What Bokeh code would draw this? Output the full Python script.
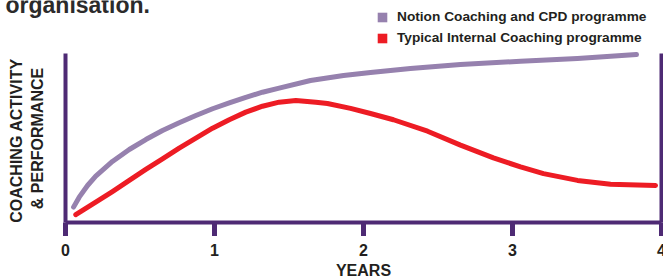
from bokeh.plotting import figure
from bokeh.models import Range1d, Legend, LegendItem
from bokeh.embed import file_html
from bokeh.resources import INLINE
from bokeh.core.properties import value

# ---- data ----
years_notion = [0.054, 0.092, 0.148, 0.203, 0.315, 0.428, 0.539, 0.651, 0.763,
                0.875, 0.987, 1.099, 1.210, 1.322, 1.434, 1.644, 1.866, 2.047,
                2.315, 2.651, 3.054, 3.436, 3.832]
perf_notion = [9.1, 15.0, 21.9, 27.4, 36.1, 43.2, 49.1, 54.4, 59.0,
               63.3, 67.3, 70.8, 74.1, 77.1, 79.5, 84.0, 87.0, 88.8,
               91.1, 93.5, 95.4, 97.1, 99.4]

years_typical = [0.069, 0.203, 0.315, 0.428, 0.539, 0.651, 0.763, 0.875, 0.987,
                 1.099, 1.210, 1.322, 1.434, 1.546, 1.680, 1.758, 1.913, 2.047,
                 2.201, 2.430, 2.651, 2.872, 3.054, 3.208, 3.436, 3.658, 3.960]
perf_typical = [4.6, 12.0, 18.3, 24.9, 31.4, 37.7, 44.0, 49.9, 55.8,
                60.8, 65.3, 68.8, 71.2, 72.2, 71.2, 70.4, 67.5, 64.5,
                60.8, 54.0, 45.8, 38.2, 32.9, 28.9, 24.9, 22.6, 21.9]

year_ticks = [0, 1, 2, 3, 4]
year_labels = ["0", "1", "2", "3", "4"]
series_names = ["Notion Coaching and CPD programme", "Typical Internal Coaching programme"]
series_colors = ["#9681AE", "#ED1C24"]
x_title = "YEARS"
y_title_lines = ["COACHING ACTIVITY", "& PERFORMANCE"]
heading = "organisation."

AXIS = "#4E2A74"
TEXT = "#231F20"
FONT = "Liberation Sans"

W, H = 663, 280
# pixel scale of the axes (149 px per year, 1.69 px per performance unit)
PX_X, PX_Y = 149.0, 1.69
x0 = -65 / PX_X            # left canvas edge in years
y1 = 222 / PX_Y            # top canvas edge in performance units

p = figure(width=W, height=H, output_backend="svg", toolbar_location=None,
           x_range=Range1d(x0, x0 + W / PX_X), y_range=Range1d(y1 - H / PX_Y, y1),
           min_border=0, min_border_left=0, min_border_right=0,
           min_border_top=0, min_border_bottom=0,
           x_axis_location=None, y_axis_location=None,
           outline_line_color=None,
           background_fill_color="white", border_fill_color="white")
p.grid.visible = False

ymin, ymax = 0, 100
xmin, xmax = year_ticks[0], year_ticks[-1]
tick_len = 13.5 / PX_Y

# axis frame: bottom line, left and right lines
p.segment(x0=[xmin, xmin, xmax], y0=[ymin, ymin, ymin],
          x1=[xmax, xmin, xmax], y1=[ymin, ymax, ymax],
          line_color=AXIS, line_width=4, line_cap="butt")
# ticks
p.segment(x0=year_ticks, y0=[ymin] * len(year_ticks),
          x1=year_ticks, y1=[ymin - tick_len] * len(year_ticks),
          line_color=AXIS, line_width=5, line_cap="butt")
# tick labels
p.text(x=year_ticks, y=[ymin - 12.6] * len(year_ticks), text=year_labels,
       text_align="center", text_baseline="top", text_font=value(FONT),
       text_font_size="16px", text_font_style="bold", text_color=TEXT)
# x title
p.text(x=[(xmin + xmax) / 2], y=[ymin - 23.6], text=[x_title],
       text_align="center", text_baseline="top", text_font=value(FONT),
       text_font_size="16px", text_font_style="bold", text_color=TEXT)

# y title (two rotated lines)
p.text(x=[-0.332, -0.1846], y=[48.5, 49.7], text=y_title_lines, angle=90,
       angle_units="deg", text_align="center", text_baseline="middle",
       text_font=value(FONT), text_font_size="16px", text_font_style="bold",
       text_color=TEXT)

# heading fragment at the top
p.text(x=[-0.4027], y=[128.7], text=[heading], text_align="left",
       text_baseline="alphabetic", text_font=value(FONT), text_font_size="23px",
       text_font_style="bold", text_color="#2B2B2B")

# lines
p.line(years_notion, perf_notion, line_color=series_colors[0], line_width=5,
       line_cap="round", line_join="round")
p.line(years_typical, perf_typical, line_color=series_colors[1], line_width=5,
       line_cap="round", line_join="round")

# legend keys (filled squares)
nan = float("nan")
k1 = p.quad(left=[nan], right=[nan], bottom=[nan], top=[nan],
            fill_color=series_colors[0], line_color=None)
k2 = p.quad(left=[nan], right=[nan], bottom=[nan], top=[nan],
            fill_color=series_colors[1], line_color=None)
leg = Legend(items=[LegendItem(label=series_names[0], renderers=[k1]),
                    LegendItem(label=series_names[1], renderers=[k2])],
             location=(376, 235), orientation="vertical",
             glyph_width=12, glyph_height=12, label_height=13, label_width=10,
             spacing=6, padding=0, margin=0, label_standoff=9,
             label_text_font=FONT, label_text_font_size="13.7px",
             label_text_font_style="bold", label_text_color=TEXT,
             background_fill_alpha=0, border_line_color=None)
p.add_layout(leg, "center")

open("out.html", "w").write(file_html(p, INLINE))
